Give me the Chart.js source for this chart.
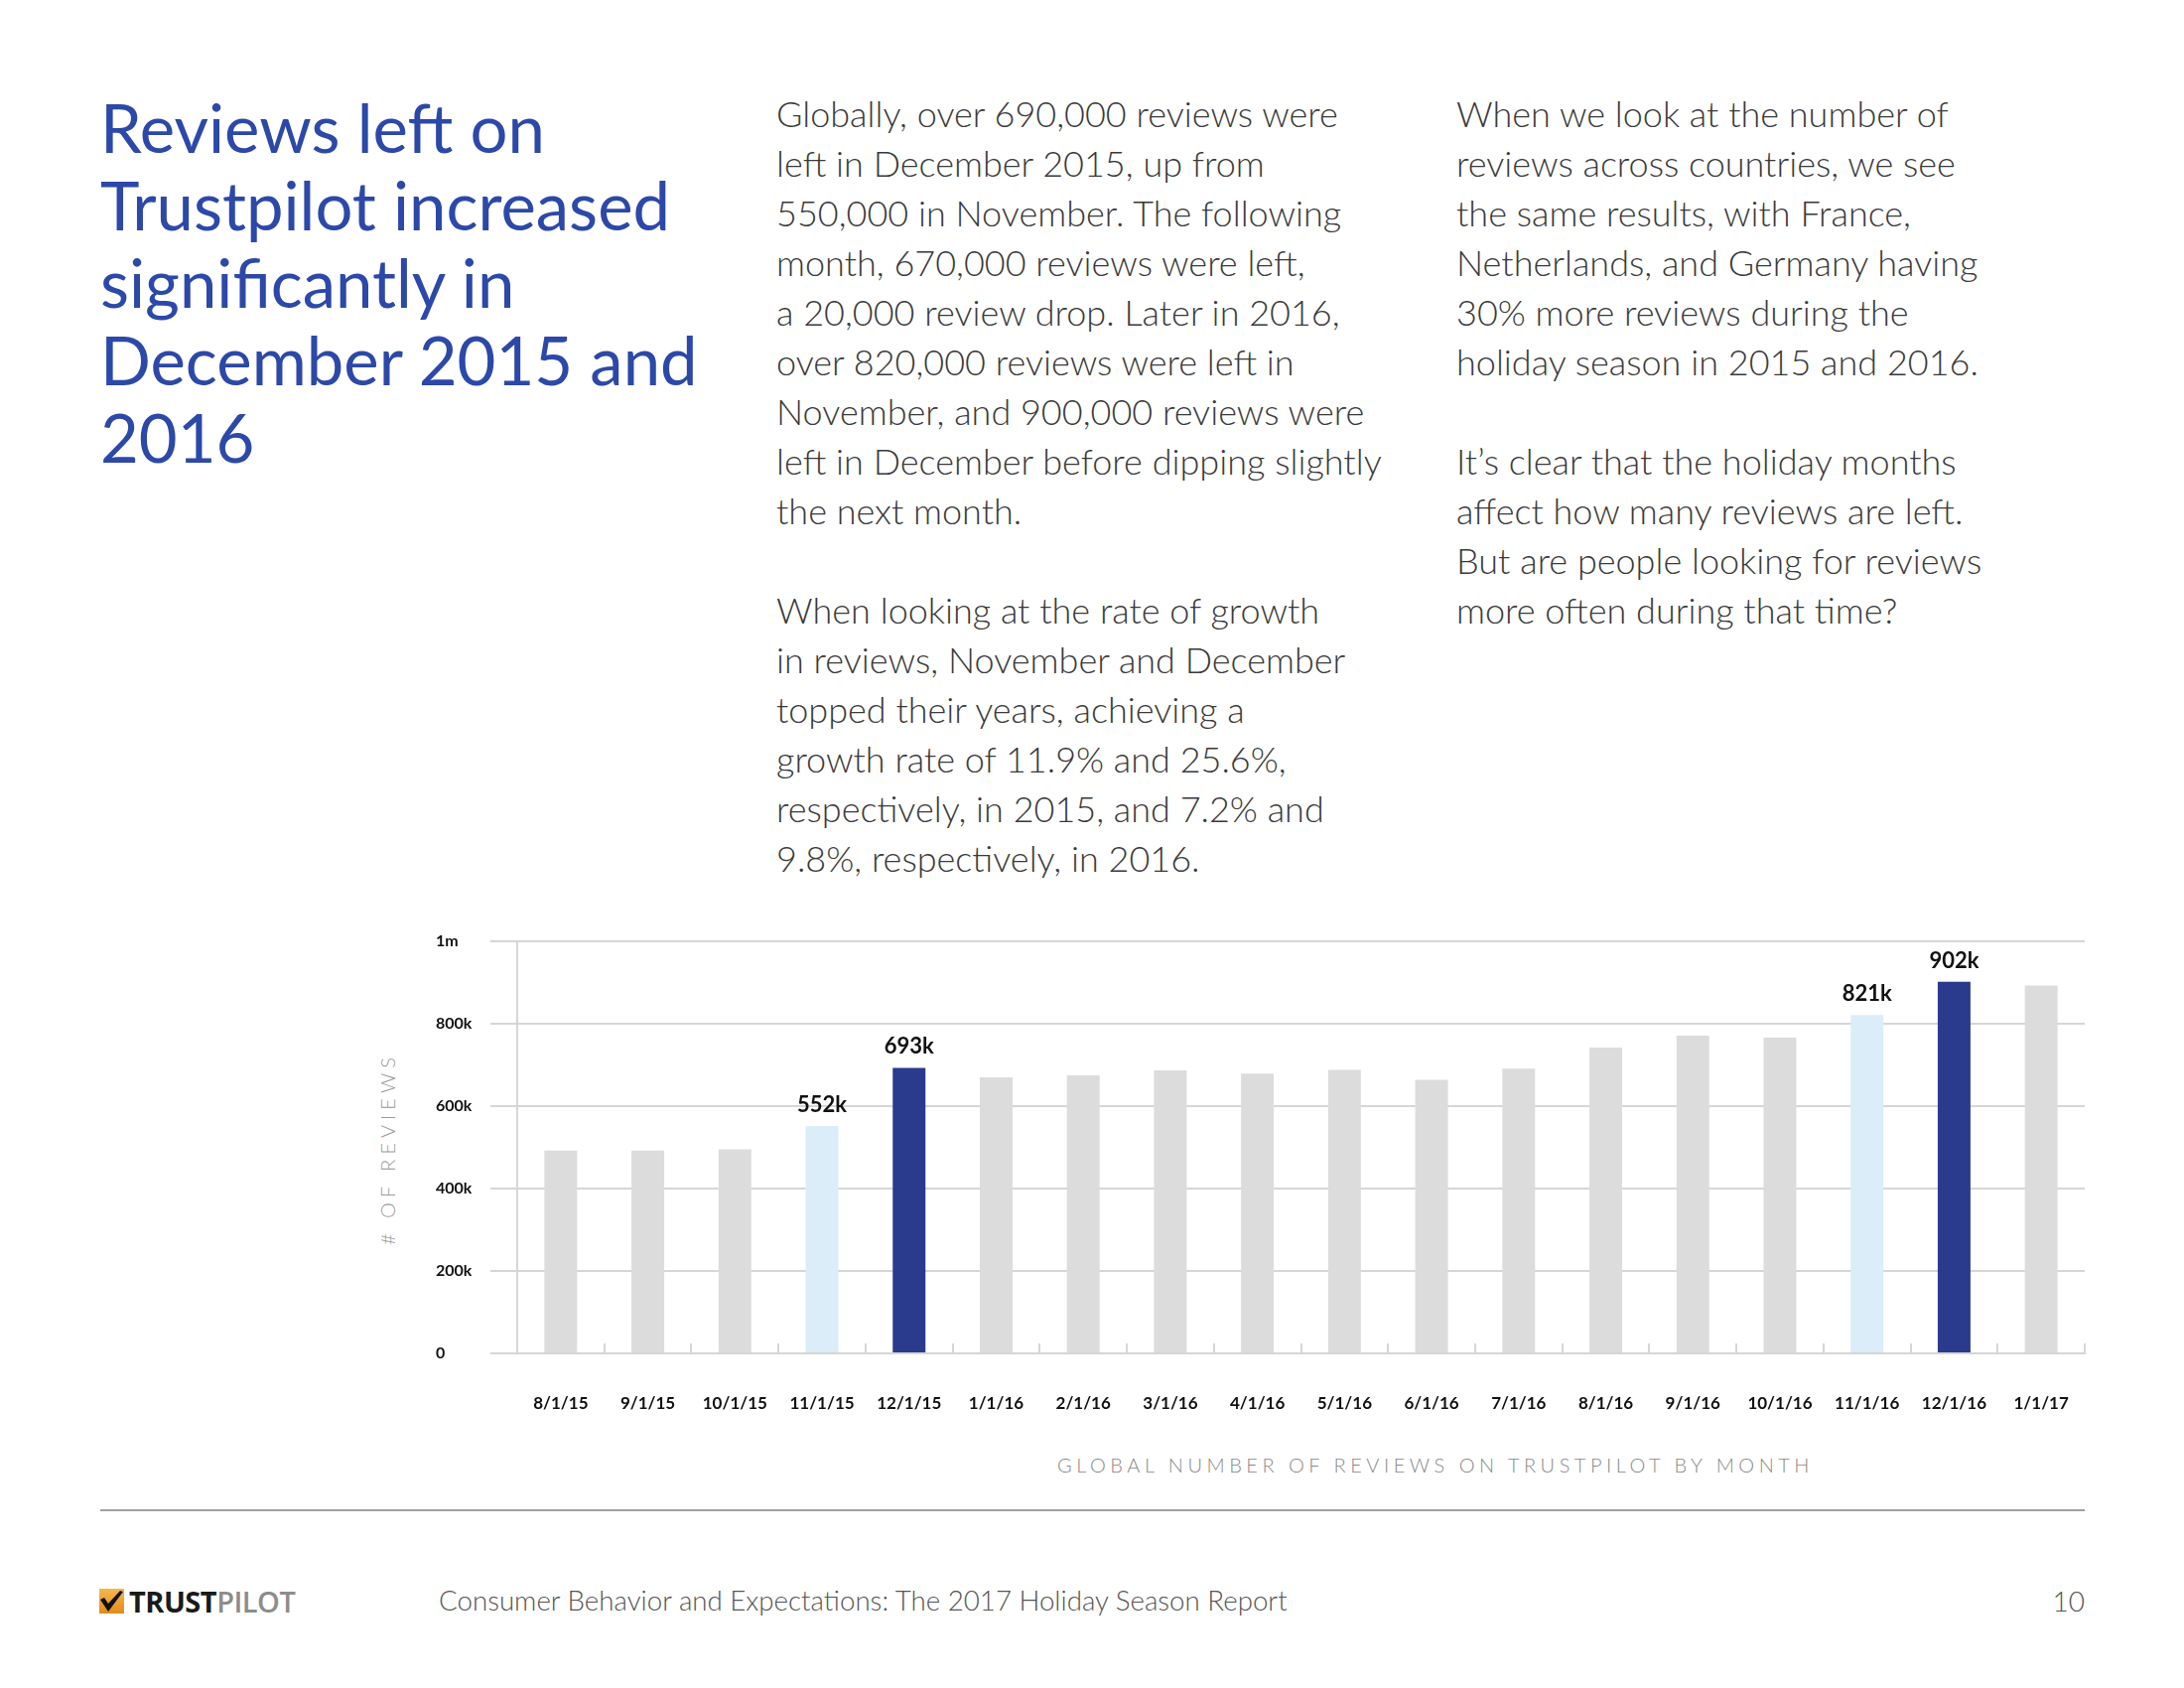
<!DOCTYPE html>
<html>
<head>
<meta charset="utf-8">
<title>Reviews left on Trustpilot</title>
<script src="https://cdn.jsdelivr.net/npm/chart.js"></script>
<style>
  html, body { margin: 0; padding: 0; background: #fff; }
  body { width: 2200px; height: 1700px; position: relative; overflow: hidden; font-family: Lato, "Open Sans", sans-serif; }
  .title { position: absolute; left: 101px; top: 89px; width: 660px; font-size: 67px; line-height: 78px; color: #2c48a8; font-weight: 400; white-space: nowrap; }
  .col { position: absolute; top: 89px; font-size: 36px; line-height: 50px; color: #3a3a3a; font-family: "Lato Light", Lato, sans-serif; font-weight: 300; white-space: nowrap; }
  .col p { margin: 0 0 50px 0; }
  #col1 { left: 782px; }
  #col2 { left: 1467px; }
  #chartBox { position: absolute; left: 430px; top: 900px; width: 1680px; height: 540px; }
  .ytitle { position: absolute; left: 390px; top: 1157px; transform: translate(-50%, -50%) rotate(-90deg); font-size: 20px; letter-spacing: 5px; color: #9a9a9a; font-weight: 300; white-space: nowrap; }
  .caption { position: absolute; left: 1046px; top: 1463px; width: 800px; text-align: center; font-size: 20px; letter-spacing: 4.5px; color: #8a8a8a; font-weight: 300; white-space: nowrap; }
  .rule { position: absolute; left: 101px; top: 1520px; width: 1999px; height: 2px; background: #a0a0a0; }
  .logo { position: absolute; left: 100px; top: 1592px; height: 40px; display: flex; align-items: center; font-family: "Open Sans", sans-serif; font-size: 29px; letter-spacing: -0.5px; }
  .logo svg { margin-right: 5px; }
  .logo b { color: #1a1a1a; font-weight: 700; }
  .logo span { color: #8c8c8c; font-weight: 600; }
  .foot { position: absolute; left: 442px; top: 1592px; font-size: 27.7px; line-height: 40px; color: #555; font-weight: 300; white-space: nowrap; }
  .page { position: absolute; right: 100px; top: 1592px; font-size: 28px; line-height: 40px; color: #555; font-weight: 300; }
</style>
</head>
<body>
  <div class="title">Reviews left on<br>Trustpilot increased<br>significantly in<br>December 2015 and<br>2016</div>

  <div class="col" id="col1">
    <p>Globally, over 690,000 reviews were<br>left in December 2015, up from<br>550,000 in November. The following<br>month, 670,000 reviews were left,<br>a 20,000 review drop. Later in 2016,<br>over 820,000 reviews were left in<br>November, and 900,000 reviews were<br>left in December before dipping slightly<br>the next month.</p>
    <p>When looking at the rate of growth<br>in reviews, November and December<br>topped their years, achieving a<br>growth rate of 11.9% and 25.6%,<br>respectively, in 2015, and 7.2% and<br>9.8%, respectively, in 2016.</p>
  </div>

  <div class="col" id="col2">
    <p>When we look at the number of<br>reviews across countries, we see<br>the same results, with France,<br>Netherlands, and Germany having<br>30% more reviews during the<br>holiday season in 2015 and 2016.</p>
    <p>It’s clear that the holiday months<br>affect how many reviews are left.<br>But are people looking for reviews<br>more often during that time?</p>
  </div>

  <div class="ytitle"># OF REVIEWS</div>
  <div id="chartBox"><canvas id="myChart"></canvas></div>
  <div class="caption">GLOBAL NUMBER OF REVIEWS ON TRUSTPILOT BY MONTH</div>

  <div class="rule"></div>
  <div class="logo">
    <svg width="25" height="25" viewBox="0 0 25 25">
      <defs><linearGradient id="g" x1="0" y1="0" x2="0" y2="1"><stop offset="0" stop-color="#f7b84a"/><stop offset="1" stop-color="#e08a1e"/></linearGradient></defs>
      <rect x="0" y="0" width="25" height="25" fill="url(#g)"/>
      <path d="M1 11 L9 23 L24 3 L21 2 L9 15 L5 9 Z" fill="#111"/>
    </svg>
    <b>TRUST</b><span>PILOT</span>
  </div>
  <div class="foot">Consumer Behavior and Expectations: The 2017 Holiday Season Report</div>
  <div class="page">10</div>

<script>
// 月份
const months = ['8/1/15', '9/1/15', '10/1/15', '11/1/15', '12/1/15', '1/1/16', '2/1/16', '3/1/16', '4/1/16',
                '5/1/16', '6/1/16', '7/1/16', '8/1/16', '9/1/16', '10/1/16', '11/1/16', '12/1/16', '1/1/17'];
// 每月评论数
const reviews = [492000, 492000, 495000, 552000, 693000, 670000, 675000, 687000, 679000,
                 688000, 664000, 691000, 742000, 771000, 766000, 821000, 902000, 893000];
// 柱顶标签
const barLabels = ['', '', '', '552k', '693k', '', '', '', '', '', '', '', '', '', '', '821k', '902k', ''];
// Y 轴刻度
const yTicks = [0, 200000, 400000, 600000, 800000, 1000000];
const yTickLabels = ['0', '200k', '400k', '600k', '800k', '1m'];

const gridColor = '#d6d6d6';

function barColor(ctx) {
  const m = months[ctx.dataIndex];
  if (m.startsWith('12/')) return '#2a3a8c';
  if (m.startsWith('11/')) return '#daedf8';
  return '#dcdcdc';
}

// 柱顶数值
const valueLabels = {
  id: 'valueLabels',
  afterDatasetsDraw(chart) {
    const ctx = chart.ctx;
    const meta = chart.getDatasetMeta(0);
    ctx.save();
    ctx.font = 'bold 22px Lato';
    ctx.fillStyle = '#111';
    ctx.textAlign = 'center';
    ctx.textBaseline = 'bottom';
    meta.data.forEach((bar, i) => {
      if (barLabels[i]) ctx.fillText(barLabels[i], bar.x, bar.y - 10);
    });
    ctx.restore();
  }
};

const chart = new Chart(document.getElementById('myChart').getContext('2d'), {
  type: 'bar',
  data: {
    labels: months,
    datasets: [{
      label: 'Reviews',
      data: reviews,
      backgroundColor: barColor,
      borderWidth: 0,
      barPercentage: 0.376,
      categoryPercentage: 1
    }]
  },
  plugins: [valueLabels],
  options: {
    responsive: true,
    maintainAspectRatio: false,
    animation: false,
    layout: { padding: { left: 9, right: 10, top: 48, bottom: 0 } },
    plugins: { legend: { display: false }, tooltip: { enabled: false } },
    scales: {
      x: {
        grid: { display: true, offset: true, drawOnChartArea: false, drawTicks: true, tickLength: -10, color: gridColor, lineWidth: 2 },
        border: { display: true, color: gridColor, width: 2 },
        ticks: { padding: 50, color: '#111', font: { family: 'Lato', weight: 'bold', size: 17 }, maxRotation: 0, autoSkip: false },
        afterFit(scale) { scale.height = 77; scale.paddingLeft = 0; scale.paddingRight = 0; }
      },
      y: {
        min: 0,
        max: 1000000,
        afterBuildTicks(scale) { scale.ticks = yTicks.map(v => ({ value: v })); },
        grid: { color: gridColor, lineWidth: 2, tickLength: 27, drawTicks: true },
        border: { display: true, color: gridColor, width: 2 },
        ticks: {
          crossAlign: 'far',
          padding: 0,
          color: '#111',
          font: { family: 'Lato', weight: 'bold', size: 16 },
          callback: (v) => yTickLabels[yTicks.indexOf(v)]
        },
        afterFit(scale) { scale.width = 82; }
      }
    }
  }
});
</script>
</body>
</html>
